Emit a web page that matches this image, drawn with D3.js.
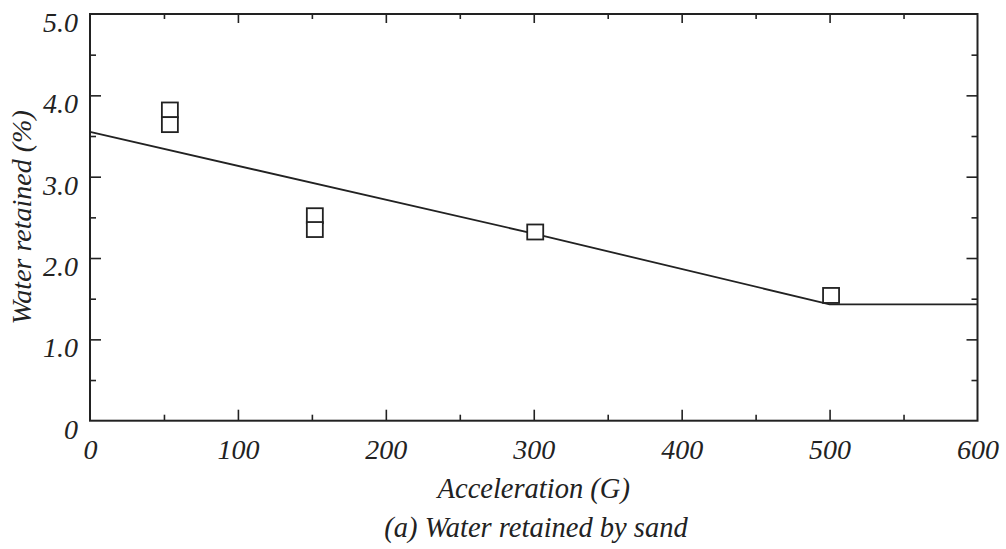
<!DOCTYPE html>
<html>
<head>
<meta charset="utf-8">
<script src="https://cdn.jsdelivr.net/npm/d3@7"></script>
<style>
  html, body { margin: 0; padding: 0; background: #fff; }
  svg text { font-family: "Liberation Serif", "DejaVu Serif", serif; font-style: italic; fill: #222; }
</style>
</head>
<body>
<svg id="chart" width="1006" height="549"></svg>
<script>
// ---- data ----
const xTickValues = [0, 100, 200, 300, 400, 500, 600];
const xTickLabels = ["0", "100", "200", "300", "400", "500", "600"];
const yTickValues = [0, 1, 2, 3, 4, 5];
const yTickLabels = ["0", "1.0", "2.0", "3.0", "4.0", "5.0"];
const pointAccel = [54, 54, 152, 152, 301, 501];
const pointWater = [3.82, 3.64, 2.52, 2.35, 2.32, 1.54];
const lineAccel = [0, 300, 500, 600];
const lineWater = [3.55, 2.30, 1.43, 1.43];
const xTitle = "Acceleration (G)";
const yTitle = "Water retained (%)";
const caption = "(a) Water retained by sand";

// ---- layout ----
const svg = d3.select("#chart");
const pL = 90, pR = 977.5, pT = 14, pB = 420.7;
const ink = "#222";

const x = d3.scaleLinear().domain([0, 600]).range([pL, pR]);
const y = d3.scaleLinear().domain([0, 5]).range([pB, pT]);

const minorX = d3.range(50, 600, 100);
const minorY = d3.range(0.5, 5, 1);

function addAxis(axis, transform) {
  const g = svg.append("g").attr("transform", transform).call(axis);
  g.select(".domain").remove();
  g.selectAll("line").attr("stroke", ink).attr("stroke-width", 1.6);
  return g;
}
// bottom major + labels
const gxb = addAxis(d3.axisBottom(x).tickValues(xTickValues).tickSize(-11).tickPadding(0)
  .tickFormat((d, i) => xTickLabels[i]), `translate(0,${pB})`);
gxb.selectAll("text").attr("font-size", 28).attr("dy", null).attr("y", 38).attr("fill", ink);
gxb.selectAll(".tick").filter(d => d === 0 || d === 600).select("line").remove();
addAxis(d3.axisBottom(x).tickValues(minorX).tickSize(-6).tickFormat(""), `translate(0,${pB})`);
// top
addAxis(d3.axisTop(x).tickValues(xTickValues.filter(d => d > 0 && d < 600)).tickSize(-9).tickFormat(""), `translate(0,${pT})`);
addAxis(d3.axisTop(x).tickValues(minorX).tickSize(-5).tickFormat(""), `translate(0,${pT})`);
// left major + labels
const gyl = addAxis(d3.axisLeft(y).tickValues(yTickValues).tickSize(-11).tickPadding(12)
  .tickFormat((d, i) => yTickLabels[i]), `translate(${pL},0)`);
gyl.selectAll("text").attr("font-size", 28).attr("dy", "0.62em").attr("x", -12).attr("fill", ink);
gyl.selectAll(".tick").filter(d => d === 0 || d === 5).select("line").remove();
addAxis(d3.axisLeft(y).tickValues(minorY).tickSize(-6).tickFormat(""), `translate(${pL},0)`);
// right
addAxis(d3.axisRight(y).tickValues(yTickValues.filter(d => d > 0 && d < 5)).tickSize(-11).tickFormat(""), `translate(${pR},0)`);
addAxis(d3.axisRight(y).tickValues(minorY).tickSize(-6).tickFormat(""), `translate(${pR},0)`);

// frame
svg.append("rect")
  .attr("x", pL).attr("y", pT)
  .attr("width", pR - pL).attr("height", pB - pT)
  .attr("fill", "none").attr("stroke", ink).attr("stroke-width", 2);

// fitted line
const lineData = lineAccel.map((a, i) => [a, lineWater[i]]);
svg.append("path")
  .datum(lineData)
  .attr("fill", "none").attr("stroke", ink).attr("stroke-width", 1.8)
  .attr("d", d3.line().x(d => x(d[0])).y(d => y(d[1])));

// square markers
const mw = 16, mh = 15;
svg.append("g").selectAll("rect")
  .data(pointAccel.map((a, i) => [a, pointWater[i]]))
  .join("rect")
  .attr("x", d => x(d[0]) - mw / 2)
  .attr("y", d => y(d[1]) - mh / 2)
  .attr("width", mw).attr("height", mh)
  .attr("fill", "#fff").attr("stroke", ink).attr("stroke-width", 1.8);

// titles
svg.append("text")
  .attr("x", (pL + pR) / 2).attr("y", 498)
  .attr("text-anchor", "middle").attr("font-size", 28.5)
  .text(xTitle);
svg.append("text")
  .attr("transform", `translate(31,${(pT + pB) / 2}) rotate(-90)`)
  .attr("text-anchor", "middle").attr("font-size", 28)
  .text(yTitle);
svg.append("text")
  .attr("x", 536).attr("y", 537)
  .attr("text-anchor", "middle").attr("font-size", 28.5)
  .text(caption);
</script>
</body>
</html>
